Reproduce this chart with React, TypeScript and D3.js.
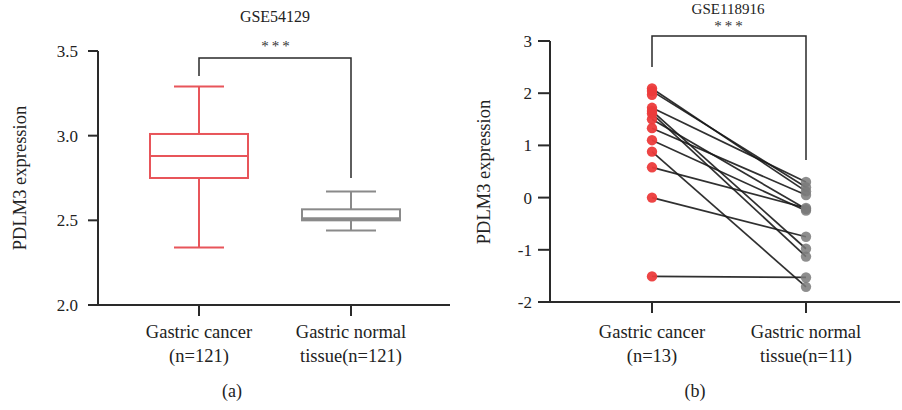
import * as d3 from "d3";

// panel (a): GSE54129 box plot
const boxGroups = ["Gastric cancer|(n=121)", "Gastric normal|tissue(n=121)"];
const boxMin = [2.34, 2.44];
const boxQ1 = [2.75, 2.5];
const boxMedian = [2.88, 2.51];
const boxQ3 = [3.01, 2.565];
const boxMax = [3.29, 2.67];
const boxColors = ["#e8555a", "#8a8a8a"];
const yTicksA = [2.0, 2.5, 3.0, 3.5];

// panel (b): GSE118916 paired dots
const pairGroups = ["Gastric cancer|(n=13)", "Gastric normal|tissue(n=11)"];
const cancerValues = [2.09, 2.04, 1.97, 1.72, 1.66, 1.61, 1.5, 1.33, 1.1, 0.88, 0.58, 0.0, -1.51];
const normalValues = [0.12, 0.2, null, 0.3, -0.98, -1.13, -0.22, 0.05, -0.25, -1.71, -0.2, -0.75, -1.53];
const yTicksB = [-2, -1, 0, 1, 2, 3];

const FONT = "'Liberation Serif', 'Times New Roman', serif";
const AXIS = "#2a2a2a";

function CatLabel({ x, label }: { x: number; label: string }) {
  const [l1, l2] = label.split("|");
  return (
    <text x={x} textAnchor="middle" fontSize={18.5} fontFamily={FONT} fill="#222">
      <tspan x={x} y={338}>{l1}</tspan>
      <tspan x={x} y={362}>{l2}</tspan>
    </text>
  );
}

function Stars({ x, y }: { x: number; y: number }) {
  return (
    <text x={x} y={y} textAnchor="middle" fontSize={15} letterSpacing={3} fontFamily={FONT} fill="#333">***</text>
  );
}

function PanelA() {
  const y = d3.scaleLinear().domain([2.0, 3.5]).range([305, 51]);
  const x = d3.scalePoint<string>().domain(boxGroups).range([199, 351]);
  const axisX = 98;
  const boxW = 98;
  const capW = 50;
  return (
    <g>
      <text x={275} y={22} textAnchor="middle" fontSize={16} fontFamily={FONT} fill="#222">GSE54129</text>
      {/* significance bracket */}
      <path d={`M${x(boxGroups[0])},76V58H${x(boxGroups[1])}V178`} fill="none" stroke={AXIS} strokeWidth={1.5} />
      <Stars x={277} y={51} />
      {boxGroups.map((g, i) => {
        const cx = x(g)!;
        const c = boxColors[i];
        return (
          <g key={g} stroke={c} fill="none" strokeWidth={2}>
            <line x1={cx} x2={cx} y1={y(boxMax[i])} y2={y(boxQ3[i])} />
            <line x1={cx} x2={cx} y1={y(boxQ1[i])} y2={y(boxMin[i])} />
            <line x1={cx - capW / 2} x2={cx + capW / 2} y1={y(boxMax[i])} y2={y(boxMax[i])} />
            <line x1={cx - capW / 2} x2={cx + capW / 2} y1={y(boxMin[i])} y2={y(boxMin[i])} />
            <rect x={cx - boxW / 2} y={y(boxQ3[i])} width={boxW} height={y(boxQ1[i]) - y(boxQ3[i])} />
            <line x1={cx - boxW / 2} x2={cx + boxW / 2} y1={y(boxMedian[i])} y2={y(boxMedian[i])} strokeWidth={i === 1 ? 3 : 2} />
          </g>
        );
      })}
      {/* axes */}
      <line x1={axisX} x2={axisX} y1={y(3.5)} y2={y(2.0)} stroke={AXIS} strokeWidth={2} />
      <line x1={88} x2={450} y1={y(2.0)} y2={y(2.0)} stroke={AXIS} strokeWidth={2} />
      {yTicksA.map((t) => (
        <g key={t}>
          <line x1={88} x2={axisX} y1={y(t)} y2={y(t)} stroke={AXIS} strokeWidth={2} />
          <text x={78} y={y(t)} dy="0.35em" textAnchor="end" fontSize={17} fontFamily={FONT} fill="#222">{d3.format(".1f")(t)}</text>
        </g>
      ))}
      {boxGroups.map((g) => (
        <g key={g}>
          <line x1={x(g)} x2={x(g)} y1={y(2.0)} y2={y(2.0) + 11} stroke={AXIS} strokeWidth={2} />
          <CatLabel x={x(g)!} label={g} />
        </g>
      ))}
      <text transform="translate(26,178) rotate(-90)" textAnchor="middle" fontSize={18.5} fontFamily={FONT} fill="#222">PDLM3 expression</text>
      <text x={232} y={397} textAnchor="middle" fontSize={18} fontFamily={FONT} fill="#222">(a)</text>
    </g>
  );
}

function PanelB() {
  const y = d3.scaleLinear().domain([-2, 3]).range([302, 41]);
  const x = d3.scalePoint<string>().domain(pairGroups).range([652, 806]);
  const axisX = 550;
  const x0 = x(pairGroups[0])!;
  const x1 = x(pairGroups[1])!;
  return (
    <g>
      <text x={728} y={14} textAnchor="middle" fontSize={15} fontFamily={FONT} fill="#222">GSE118916</text>
      <path d={`M${x0},67V36H${x1}V160`} fill="none" stroke={AXIS} strokeWidth={1.5} />
      <Stars x={730} y={31} />
      {cancerValues.map((v, i) =>
        normalValues[i] === null ? null : (
          <line key={i} x1={x0} x2={x1} y1={y(v)} y2={y(normalValues[i] as number)} stroke="#1a1a1a" strokeOpacity={0.9} strokeWidth={1.7} />
        )
      )}
      {normalValues.map((v, i) =>
        v === null ? null : <circle key={i} cx={x1} cy={y(v)} r={5.2} fill="#7a7a7a" fillOpacity={0.85} />
      )}
      {cancerValues.map((v, i) => (
        <circle key={i} cx={x0} cy={y(v)} r={5.2} fill="#ec3b3b" fillOpacity={0.95} />
      ))}
      <line x1={axisX} x2={axisX} y1={y(3)} y2={y(-2)} stroke={AXIS} strokeWidth={2} />
      <line x1={538} x2={900} y1={y(-2)} y2={y(-2)} stroke={AXIS} strokeWidth={2} />
      {yTicksB.map((t) => (
        <g key={t}>
          <line x1={538} x2={axisX} y1={y(t)} y2={y(t)} stroke={AXIS} strokeWidth={2} />
          <text x={532} y={y(t)} dy="0.35em" textAnchor="end" fontSize={17} fontFamily={FONT} fill="#222">{t < 0 ? `-${-t}` : t}</text>
        </g>
      ))}
      {pairGroups.map((g) => (
        <g key={g}>
          <line x1={x(g)} x2={x(g)} y1={y(-2)} y2={y(-2) + 11} stroke={AXIS} strokeWidth={2} />
          <CatLabel x={x(g)!} label={g} />
        </g>
      ))}
      <text transform="translate(490,172) rotate(-90)" textAnchor="middle" fontSize={18.5} fontFamily={FONT} fill="#222">PDLM3 expression</text>
      <text x={695} y={397} textAnchor="middle" fontSize={18} fontFamily={FONT} fill="#222">(b)</text>
    </g>
  );
}

export default function App() {
  return (
    <svg width={902} height={410} style={{ position: "absolute", left: 0, top: 0, background: "#fff" }}>
      <rect width={902} height={410} fill="#fff" />
      <PanelA />
      <PanelB />
    </svg>
  );
}
